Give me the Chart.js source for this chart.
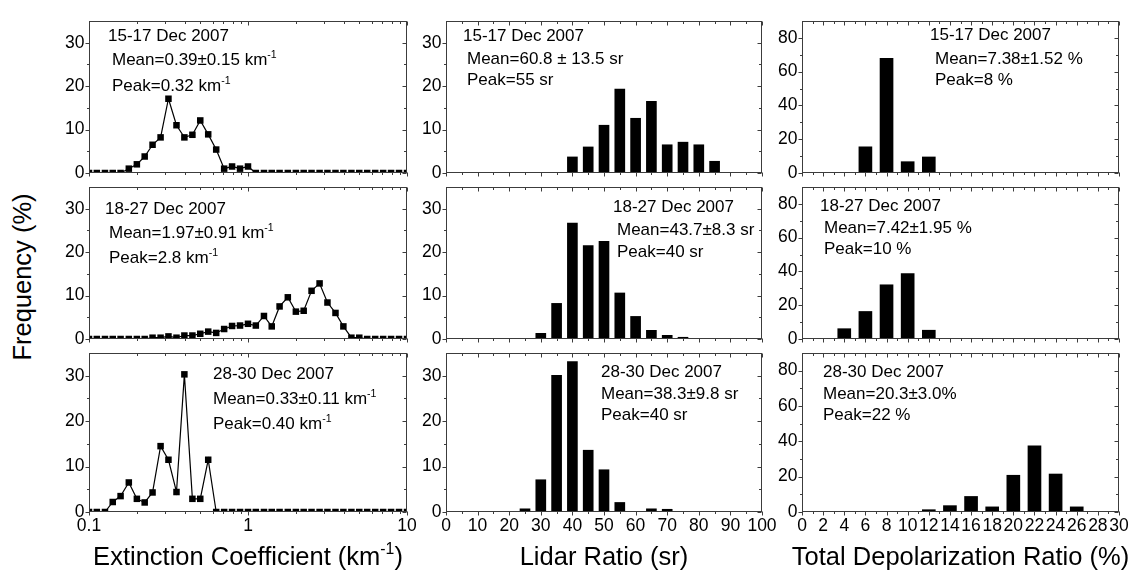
<!DOCTYPE html>
<html>
<head>
<meta charset="utf-8">
<script src="https://cdn.jsdelivr.net/npm/chart.js@4.4.1/dist/chart.umd.min.js"></script>
<style>
html, body { margin: 0; padding: 0; background: #fff; }
#wrap { position: relative; width: 1137px; height: 570px; overflow: hidden; }
#wrap canvas { position: absolute; }
#ytitle {
  position: absolute; left: 23px; top: 277px; white-space: nowrap;
  font: 25.5px 'Liberation Sans', Arial, Helvetica, sans-serif; line-height: 1; color: #000;
  transform: translate(-50%, -50%) rotate(-90deg);
}
</style>
</head>
<body>
<div id="wrap"><div id="ytitle"></div></div>
<script>
// extinction coefficient bins (km-1), 20 per decade
const extBins = [0.1, 0.112, 0.126, 0.141, 0.158, 0.178, 0.2, 0.224, 0.251, 0.282,
                 0.316, 0.355, 0.398, 0.447, 0.501, 0.562, 0.631, 0.708, 0.794, 0.891,
                 1, 1.12, 1.26, 1.41, 1.58, 1.78, 2, 2.24, 2.51, 2.82,
                 3.16, 3.55, 3.98, 4.47, 5.01, 5.62, 6.31, 7.08, 7.94, 8.91, 10];
const ext1517 = [0, 0, 0, 0, 0, 1.0, 2.0, 3.8, 6.5, 8.2,
                 17.1, 11.0, 8.2, 8.8, 12.1, 8.9, 5.4, 1.0, 1.5, 1.0,
                 1.5, 0, 0, 0, 0, 0, 0, 0, 0, 0,
                 0, 0, 0, 0, 0, 0, 0, 0, 0, 0, 0];
const ext1827 = [0, 0, 0, 0, 0, 0, 0, 0, 0.3, 0.3,
                 0.6, 0.3, 0.8, 0.8, 1.2, 1.7, 1.4, 2.3, 3.0, 3.1,
                 3.5, 3.1, 5.3, 2.9, 7.5, 9.6, 6.3, 6.5, 11.1, 12.8,
                 8.4, 6.0, 2.9, 0.3, 0.3, 0, 0, 0, 0, 0, 0];
const ext2830 = [0, 0, 0, 2.2, 3.5, 6.5, 2.9, 2.1, 4.3, 14.5,
                 11.5, 4.4, 30.3, 2.9, 2.9, 11.5, 0, 0, 0, 0,
                 0, 0, 0, 0, 0, 0, 0, 0, 0, 0,
                 0, 0, 0, 0, 0, 0, 0, 0, 0, 0, 0];

// lidar ratio bins (sr)
const lidarBins = [25, 30, 35, 40, 45, 50, 55, 60, 65, 70, 75, 80, 85];
const lidar1517 = [0, 0, 0, 3.7, 6.0, 11.0, 19.3, 12.6, 16.5, 6.5, 7.1, 6.5, 2.7];
const lidar1827 = [0, 1.3, 8.2, 26.7, 21.5, 22.5, 10.6, 5.2, 2.0, 0.85, 0.4, 0, 0];
const lidar2830 = [0.7, 7.1, 30.1, 33.1, 13.6, 9.3, 2.1, 0, 0.7, 0.6, 0, 0, 0];

// total depolarization ratio bins (%)
const depolBins = [4, 6, 8, 10, 12, 14, 16, 18, 20, 22, 24, 26];
const depol1517 = [0, 15.5, 67.9, 6.7, 9.5, 0, 0, 0, 0, 0, 0, 0];
const depol1827 = [6.1, 16.3, 32.1, 38.8, 5.2, 0, 0, 0, 0, 0, 0, 0];
const depol2830 = [0, 0, 0, 0, 1.3, 3.6, 8.8, 2.9, 20.8, 37.5, 21.5, 2.9];

// tick labels
const freqTicks = [0, 10, 20, 30];
const depolFreqTicks = [0, 20, 40, 60, 80];
const extTicks = [0.1, 1, 10];
const lidarTicks = [0, 10, 20, 30, 40, 50, 60, 70, 80, 90, 100];
const depolTicks = [0, 2, 4, 6, 8, 10, 12, 14, 16, 18, 20, 22, 24, 26, 28, 30];

// texts
const dates = ["15-17 Dec 2007", "18-27 Dec 2007", "28-30 Dec 2007"];
const extNotes = [["Mean=0.39\u00b10.15 km^{-1}", "Peak=0.32 km^{-1}"],
                  ["Mean=1.97\u00b10.91 km^{-1}", "Peak=2.8 km^{-1}"],
                  ["Mean=0.33\u00b10.11 km^{-1}", "Peak=0.40 km^{-1}"]];
const lidarNotes = [["Mean=60.8 \u00b1 13.5 sr", "Peak=55 sr"],
                    ["Mean=43.7\u00b18.3 sr", "Peak=40 sr"],
                    ["Mean=38.3\u00b19.8 sr", "Peak=40 sr"]];
const depolNotes = [["Mean=7.38\u00b11.52 %", "Peak=8 %"],
                    ["Mean=7.42\u00b11.95 %", "Peak=10 %"],
                    ["Mean=20.3\u00b13.0%", "Peak=22 %"]];
const xTitles = ["Extinction Coefficient (km^{-1})", "Lidar Ratio (sr)", "Total Depolarization Ratio (%)"];
const yTitle = "Frequency (%)";

// ---- layout ----
const FONT = "'Liberation Sans', Arial, Helvetica, sans-serif";
const TICK_SIZE = 17.5, NOTE_SIZE = 17, TITLE_SIZE = 25.5;
const colLeft = [89, 446, 802];
const colRight = [407, 762, 1119];
const rowTop = [14, 180, 346];
const rowBottom = [180, 346, 512];
const PAD_T = 8, PAD_R = 20;

// minor tick positions
const extMinor = [];
[0.1, 1].forEach(d => { for (let k = 2; k <= 9; k++) extMinor.push(d * k); });
const freqMinor = [5, 15, 25];
const depolFreqMinor = [10, 30, 50, 70];
const lidarMinor = [];
for (let v = 5; v < 100; v += 10) lidarMinor.push(v);
const depolMinor = [];
for (let v = 1; v < 30; v += 2) depolMinor.push(v);

// where the three note lines sit: [dx, cap-centre dy] from the plot's top left
const notePos = [
  [[[19, 14.3], [23, 37.7], [23, 64.3]], [[16, 20.7], [20, 45], [20, 70]], [[124, 19.8], [124, 44.7], [124, 69.7]]],
  [[[17, 13.5], [21, 36.7], [21, 58.3]], [[167, 19], [171, 42.3], [171, 64]], [[155, 18.3], [155, 39.7], [155, 61.3]]],
  [[[128, 13.3], [133, 36.7], [133, 58.3]], [[18, 18], [22, 40], [22, 60.7]], [[21, 17.7], [21, 39.7], [21, 61.3]]]
];

const columns = [
  { type: "line", xType: "logarithmic", xMin: 0.1, xMax: 10, xMajor: extTicks, xMinor: extMinor,
    yMax: 35, yMajor: freqTicks, yMinor: freqMinor, bins: extBins,
    series: [ext1517, ext1827, ext2830], notes: extNotes },
  { type: "bar", xType: "linear", xMin: 0, xMax: 100, xMajor: lidarTicks, xMinor: lidarMinor,
    yMax: 35, yMajor: freqTicks, yMinor: freqMinor, bins: lidarBins, barW: 10,
    series: [lidar1517, lidar1827, lidar2830], notes: lidarNotes },
  { type: "bar", xType: "linear", xMin: 0, xMax: 30, xMajor: depolTicks, xMinor: depolMinor,
    yMax: 90, yMajor: depolFreqTicks, yMinor: depolFreqMinor, bins: depolBins, barW: 13,
    series: [depol1517, depol1827, depol2830], notes: depolNotes }
];

document.getElementById("ytitle").textContent = yTitle;

// draws text with ^{...} parts as superscript
function drawRich(ctx, str, x, y, size, align) {
  const parts = [];
  const re = /\^\{([^}]*)\}/g;
  let last = 0, m;
  while ((m = re.exec(str))) {
    if (m.index > last) parts.push({ t: str.slice(last, m.index), sup: false });
    parts.push({ t: m[1], sup: true });
    last = re.lastIndex;
  }
  if (last < str.length) parts.push({ t: str.slice(last), sup: false });
  const supSize = size * 0.62;
  let total = 0;
  parts.forEach(p => {
    ctx.font = (p.sup ? supSize : size) + "px " + FONT;
    p.w = ctx.measureText(p.t).width;
    total += p.w;
  });
  let cx = align === "center" ? x - total / 2 : x;
  ctx.textAlign = "left";
  ctx.textBaseline = "alphabetic";
  parts.forEach(p => {
    ctx.font = (p.sup ? supSize : size) + "px " + FONT;
    ctx.fillText(p.t, cx, p.sup ? y - size * 0.42 : y);
    cx += p.w;
  });
}

function framePlugin(c, r, top) {
  const col = columns[c];
  return {
    id: "frame" + c + r,
    afterDatasetsDraw(chart) {
      const ctx = chart.ctx, a = chart.chartArea;
      const xs = chart.scales.x, ys = chart.scales.y;
      const L = Math.round(a.left) + 0.5, R = Math.round(a.right) - 0.5;
      const T = Math.round(a.top) + 0.5, B = Math.round(a.bottom) - 0.5;
      ctx.save();
      ctx.strokeStyle = "#3c3c3c";
      ctx.lineWidth = 1;
      ctx.strokeRect(L, T, R - L, B - T);
      ctx.beginPath();
      const xt = (vals, len) => vals.forEach(v => {
        const px = Math.round(xs.getPixelForValue(v)) + 0.5;
        ctx.moveTo(px, B); ctx.lineTo(px, B + len);   // bottom, outward
        ctx.moveTo(px, T); ctx.lineTo(px, T + len);   // top, inward
      });
      const yt = (vals, len) => vals.forEach(v => {
        const py = Math.round(ys.getPixelForValue(v)) + 0.5;
        ctx.moveTo(L - len, py); ctx.lineTo(L, py);   // left, outward
        ctx.moveTo(R, py); ctx.lineTo(R - len, py);   // right, inward
      });
      xt(col.xMajor, 4); xt(col.xMinor, 2.5);
      yt(col.yMajor, 4); yt(col.yMinor, 2.5);
      ctx.stroke();
      ctx.restore();
    },
    afterDraw(chart) {
      const ctx = chart.ctx, a = chart.chartArea;
      ctx.save();
      ctx.fillStyle = "#000";
      const pos = notePos[c][r];
      const lines = [dates[r], col.notes[r][0], col.notes[r][1]];
      lines.forEach((txt, i) => {
        drawRich(ctx, txt, a.left + pos[i][0], a.top + pos[i][1] + NOTE_SIZE * 0.36, NOTE_SIZE, "left");
      });
      if (r === 2) {
        drawRich(ctx, xTitles[c], (a.left + a.right) / 2, 565 - top, TITLE_SIZE, "center");
      }
      ctx.restore();
    }
  };
}

function makePanel(c, r) {
  const col = columns[c];
  const isBottom = r === 2;
  const left = c === 0 ? 0 : colLeft[c] - 40;
  const yAxisW = colLeft[c] - left;
  const top = rowTop[r] - PAD_T;
  const width = colRight[c] + PAD_R - left;
  const height = (isBottom ? 570 : rowBottom[r] + 8) - top;
  const xAxisH = isBottom ? 570 - rowBottom[r] : 8;

  const canvas = document.createElement("canvas");
  canvas.width = width;
  canvas.height = height;
  canvas.style.left = left + "px";
  canvas.style.top = top + "px";
  document.getElementById("wrap").appendChild(canvas);

  const values = col.series[r];
  const points = col.bins.map((x, i) => ({ x: x, y: values[i] }));

  const ds = col.type === "line"
    ? { data: points, borderColor: "#000", borderWidth: 1.2, tension: 0,
        pointStyle: "rect", pointRadius: 4.6, pointBackgroundColor: "#000",
        pointBorderWidth: 0, clip: 0 }
    : { data: points, backgroundColor: "#000", borderWidth: 0, barThickness: col.barW };

  const tickFont = { family: FONT, size: TICK_SIZE };

  new Chart(canvas, {
    type: col.type,
    data: { datasets: [ds] },
    options: {
      responsive: false,
      animation: false,
      devicePixelRatio: 1,
      layout: { autoPadding: false, padding: { left: 0, top: PAD_T, right: PAD_R, bottom: 0 } },
      plugins: { legend: { display: false }, tooltip: { enabled: false } },
      scales: {
        x: {
          type: col.xType, min: col.xMin, max: col.xMax, offset: false,
          grid: { display: false, drawTicks: false }, border: { display: false },
          ticks: { display: isBottom, padding: 4, color: "#000", font: tickFont,
                   maxRotation: 0, autoSkip: false, callback: v => String(v) },
          afterBuildTicks: s => { s.ticks = col.xMajor.map(v => ({ value: v })); },
          afterFit: s => { s.height = xAxisH; }
        },
        y: {
          type: "linear", min: 0, max: col.yMax,
          grid: { display: false, drawTicks: false }, border: { display: false },
          ticks: { padding: 4.5, color: "#000", font: tickFont, callback: v => String(v) },
          afterBuildTicks: s => { s.ticks = col.yMajor.map(v => ({ value: v })); },
          afterFit: s => { s.width = yAxisW; }
        }
      }
    },
    plugins: [framePlugin(c, r, top)]
  });
}

for (let r = 0; r < 3; r++) {
  for (let c = 0; c < 3; c++) {
    makePanel(c, r);
  }
}
</script>
</body>
</html>
